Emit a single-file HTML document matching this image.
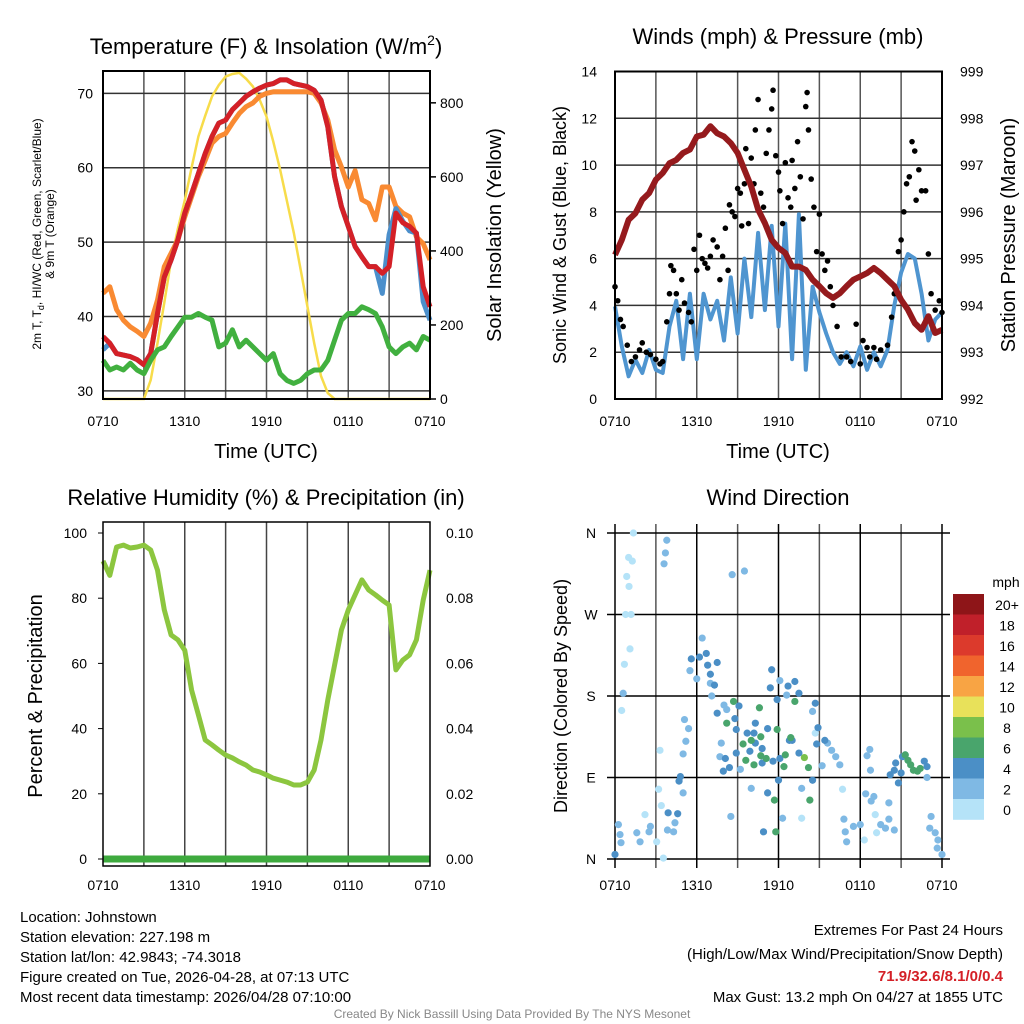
<!DOCTYPE html>
<html><head><meta charset="utf-8"><style>
html,body{margin:0;padding:0;background:#fff;width:1024px;height:1024px;overflow:hidden;}
svg{display:block;}
svg text{font-family:"Liberation Sans",sans-serif;}
</style></head><body>
<div style="position:relative;width:1024px;height:1024px;">
<svg id="c" width="1024" height="1024" viewBox="0 0 1024 1024" xmlns="http://www.w3.org/2000/svg" style="position:absolute;left:0;top:0"></svg>
<script>
// ---------- data ----------
const hours = [0,0.5,1,1.5,2,2.5,3,3.5,4,4.5,5,5.5,6,6.5,7,7.5,8,8.5,9,9.5,10,10.5,11,11.5,12,12.5,13,13.5,14,14.5,15,15.5,16,16.5,17,17.5,18,18.5,19,19.5,20,20.5,21,21.5,22,22.5,23,23.5,24];
const xTickLabels = ["0710","1310","1910","0110","0710"];
const tempTicks = [30,40,50,60,70];
const solarTicks = [0,200,400,600,800];
const tempRed = [37.3,36.4,35,34.8,34.6,34.2,33.5,35,40.4,45.3,47.6,50.3,53.9,56.5,59.2,61.9,64.2,66,66.4,67.8,68.7,69.6,70.2,70.7,71.1,71.3,71.8,71.8,71.3,71.1,70.9,70.4,69.1,65.5,58.8,54.8,52.1,49.4,48,46.7,46.7,45.8,46.7,53.9,52.6,52.1,51.2,44,41.3];
const tempBlue = [35.5,36.4,35,34.8,34.6,34.2,33.5,35,40.4,45.3,47.6,50.3,53.9,56.5,59.2,61.9,64.2,66,66.4,67.8,68.7,69.6,70.2,70.7,71.1,71.3,71.8,71.8,71.3,71.1,70.9,70.4,69.1,65.5,58.8,54.8,52.1,49.4,48,46.7,46.7,43.1,51,54.5,52.8,51.5,51.2,42,39.5];
const tempOrange = [43.1,44,40.9,39.5,38.6,38,37.3,39.1,42.2,46.7,48.5,50.3,53.4,56.1,58.8,61,63.3,64.2,64.6,66,67.3,68.2,68.7,69.6,70,70.2,70.2,70.2,70.2,70.2,70.2,70,68.7,66.4,62.4,60.1,57.4,59.6,55.7,55.2,53,57.4,57.4,54.8,53.9,53.4,50.7,49.8,47.6];
const tempGreen = [34.1,32.8,33.2,32.8,33.7,32.8,32.3,34.1,35.5,35.9,37.3,38.6,39.9,39.9,40.4,39.9,39.5,35.9,36.4,38.2,35.9,36.8,35.9,35,34.1,35,32.3,31.4,31,31.4,32.3,32.8,32.8,34.1,36.8,39.5,40.4,40.4,41.3,40.9,40.4,38.6,35.9,35,35.9,36.4,35.5,37.3,36.8];
const solar = [0,0,0,0,0,0,0,51,151,260,375,460,537,625,709,765,817,848,871,878,881,865,844,808,763,695,620,535,449,350,250,151,62,16,0,0,0,0,0,0,0,0,0,0,0,0,0,0,0];

const windTicks = [0,2,4,6,8,10,12,14];
const presTicks = [992,993,994,995,996,997,998,999];
const windSpeed = [3.96,2.25,0.97,1.68,1.11,2.1,1.25,1.11,3.1,4.2,1.7,4.5,1.7,4.5,3.4,4.2,2.5,5.2,2.8,6,3.5,7.1,3.8,7.4,3.1,7.5,1.7,7.9,1.25,4.8,3.7,2.8,2,1.5,2,1.4,2.25,1.25,2,1.4,2.1,4,5.4,6.2,6,4.5,2.5,3.4,3.7];
const pressure = [995.08,995.4,995.83,995.97,996.26,996.4,996.69,996.83,997.04,997.11,997.26,997.33,997.61,997.65,997.83,997.68,997.61,997.47,997.26,996.9,996.54,996.05,995.76,995.4,995.23,995.12,994.83,994.83,994.76,994.55,994.41,994.26,994.16,994.26,994.41,994.55,994.62,994.69,994.8,994.69,994.55,994.41,994.12,993.91,993.62,993.48,993.77,993.41,993.48];
const gustHours = [0,0.2,0.4,0.6,0.9,1.2,1.5,1.8,2,2.3,2.6,3,3.3,3.5,3.8,4,4.1,4.3,4.5,4.7,4.9,5.1,5.4,5.6,5.8,6,6.2,6.4,6.6,6.8,7,7.2,7.5,7.7,7.9,8.1,8.3,8.4,8.6,8.8,9,9.2,9.3,9.5,9.6,9.8,10,10.2,10.3,10.5,10.7,10.9,11.1,11.3,11.5,11.6,11.8,12,12.1,12.3,12.5,12.7,12.9,13,13.2,13.4,13.6,13.8,14,14.1,14.2,14.4,14.6,14.8,15,15.2,15.4,15.6,15.8,16,16.3,16.6,17,17.3,17.7,18,18.2,18.5,18.7,19,19.2,19.5,20,20.3,20.5,20.8,21,21.2,21.4,21.6,21.8,22,22.1,22.3,22.5,22.8,23,23.2,23.5,23.8,24];
const gustSpeed = [4.8,4.2,3.4,3.1,2.3,1.6,1.8,2.1,2.4,2,1.9,1.7,1.5,1.6,3.3,4.5,5.7,5.5,4.5,3.8,5.1,4.1,3.7,3.3,6.4,5.5,7,6,5.8,5.6,6.1,6.8,6.5,5.1,6.1,7.3,5.5,8.3,8,7.8,9,8.8,7.4,9.2,10.7,7.5,10.3,9.2,11.5,12.8,8.8,8.2,10.5,11.5,12.4,13.2,10.4,9.7,8.9,7.5,10.1,8.6,8.2,10.2,9,11,9.5,7.7,12.5,13.1,11.5,9.4,8.2,6.3,7.9,6.2,5.5,5.9,4.8,4,3.1,1.8,1.8,1.6,3.2,1.5,2.5,2.2,1.8,2.2,1.7,2.1,2.3,3.5,4.5,6.3,6.8,8,9.2,9.5,11,10.6,8.5,9.8,8.9,8.9,6.2,4.5,3.8,4.2,3.7];

const rhTicks = [0,20,40,60,80,100];
const precipTickLabels = ["0.00","0.02","0.04","0.06","0.08","0.10"];
const rh = [91.4,87,95.7,96.3,95.4,95.7,96.3,94.8,88.6,76.4,68.7,67.2,64,51.8,44.2,36.5,35,33.4,31.9,31,29.8,28.8,27.3,26.7,25.8,24.8,24.2,23.6,22.7,22.7,23.6,27.3,36.5,48.8,59.5,70.2,76.4,81,85.6,82.5,81,79.4,77.9,58,61,62.6,67.2,79.4,88.6];
const precip = [0,0,0,0,0,0,0,0,0,0,0,0,0,0,0,0,0,0,0,0,0,0,0,0,0,0,0,0,0,0,0,0,0,0,0,0,0,0,0,0,0,0,0,0,0,0,0,0,0];

const dirTickLabels = ["N","E","S","W","N"];
const dirHours = [1.35,1.0,1.27,0.86,1.03,0.78,1.18,1.1,0.69,0.49,3.3,3.2,3.4,2.2,3.06,3.55,16.7,13.7,18.3,19.1,19.2,14.7,
3.8,3.7,3.6,0.6,5.1,5.4,5.2,5,7.8,7.7,9.2,10,8.5,12.3,5,0.25,0.37,0.44,1.6,1.84,2.6,2.5,3.85,4.3,4.4,8.6,13.7,14.5,12.1,12.6,8,8.2,6,5.5,7,7.1,15.2,15.6,15.9,16.2,16.5,18.5,18.7,18.75,18.4,18.8,19,16.8,16.9,17,17.5,18,19.5,19.85,20.1,20.1,22.9,23.2,23.1,23.5,23.7,23.65,24,20.5,
9.5,6.4,5.6,6.2,6.7,6.8,7.5,7,7.3,7.5,8.8,9.1,8.9,9.7,10.3,11.2,11.9,12.7,13.2,13.5,14.7,14.9,14.8,15.4,12.8,13,12.1,13.5,14.5,12,11.2,10.9,9.9,10.8,10.8,11.6,8.9,8.1,7.95,8.4,4.7,4.8,3.9,4.6,0,20.5,20.2,20.8,21,21.1,21.3,22.7,22.9,20.6,10.3,10.2,
11.5,11.4,8.7,10.6,8.2,9.4,10,9.6,10.2,10.7,11.1,12.4,12.5,12.9,13.2,14.2,14.3,11.7,11.8,21.3,21.5,21.7,21.9,22.2,22.4,
10.7,11.9,13.9];
const dirDegrees = [360,333,329,312,301,270,270,232,215,164,120,77,59,49,19,1,77,45,21,49,29,139,
352,338,326,183,154,144,130,116,128,113,99,78,47,45,73,38,27,18,29,19,36,30,32,30,40,314,78,163,197,181,170,165,199,208,194,180,103,128,120,113,104,114,121,98,72,64,69,44,30,19,36,38,38,34,44,62,90,47,34,29,21,12,5,32,
318,244,221,223,227,214,217,204,192,161,155,169,143,139,150,144,176,191,196,183,172,145,127,131,131,131,111,117,87,87,73,30,119,122,106,108,117,111,97,101,86,91,51,50,5,98,93,84,95,113,115,108,102,106,128,139,
209,189,174,167,150,127,131,109,104,114,111,102,115,134,174,101,65,65,30,115,109,104,98,97,100,
135,143,112];
const dirSpeeds = [1,1,1,1,1,1,1,1,1,1,1,1,1,1,1,1,1,1,1,1,1,1,
3,3,3,3,3,3,3,3,3,3,3,3,3,3,3,3,3,3,3,3,3,3,3,3,3,3,3,3,3,3,3,3,3,3,3,3,3,3,3,3,3,3,3,3,3,3,3,3,3,3,3,3,3,3,3,3,3,3,3,3,3,3,3,3,3,3,
5,5,5,5,5,5,5,5,5,5,5,5,5,5,5,5,5,5,5,5,5,5,5,5,5,5,5,5,5,5,5,5,5,5,5,5,5,5,5,5,5,5,5,5,5,5,5,5,5,5,5,5,5,5,5,5,
7,7,7,7,7,7,7,7,7,7,7,7,7,7,7,7,7,7,7,7,7,7,7,7,7,
9,9,9];
const cbLabels = ["20+","18","16","14","12","10","8","6","4","2","0"];
const cbColors = ["#8e1518","#c0202a","#dc3a2c","#f0642d","#f8a444","#e8e15a","#7ac04b","#49a56c","#4b8fc6","#7fb9e4","#b5e3f8"];

// ---------- helpers ----------
const NS="http://www.w3.org/2000/svg";
const svg=document.getElementById('c');
function mk(tag,attrs,parent,txt){const e=document.createElementNS(NS,tag);for(const k in attrs)e.setAttribute(k,attrs[k]);if(txt!==undefined)e.textContent=txt;(parent||svg).appendChild(e);return e;}
function lin(d0,d1,r0,r1){return v=>r0+(v-d0)/(d1-d0)*(r1-r0);}
function path(xs,ys,fx,fy){return xs.map((x,i)=>(i?'L':'M')+fx(x).toFixed(1)+','+fy(ys[i]).toFixed(1)).join('');}
function speedColor(s){const idx=Math.min(10,Math.floor(s/2));return cbColors[10-idx];}

// ---------- Panel 1: temperature ----------
const p1={l:103,r:430,t:71,b:399};
const x1=lin(0,24,p1.l,p1.r), yT=lin(28.9,73,p1.b,p1.t), yS=lin(0,886,p1.b,p1.t);
const g1=mk('g',{});


for(let h=3;h<24;h+=3){const l=mk('line',{x1:x1(h),x2:x1(h),y1:p1.t,y2:p1.b,stroke:'#555','stroke-width':1.5},g1);}
tempTicks.forEach(v=>{const l=mk('line',{x1:p1.l,x2:p1.r,y1:yT(v),y2:yT(v),stroke:'#333','stroke-width':1.5},g1);
 const t=mk('text',{x:p1.l-10,y:yT(v)+5,'font-size':14,'text-anchor':'end'},g1,v);});
solarTicks.forEach(v=>{mk('line',{x1:p1.r,x2:p1.r+6,y1:yS(v),y2:yS(v),stroke:'#000','stroke-width':1.5},g1);
 const t=mk('text',{x:p1.r+10,y:yS(v)+5,'font-size':14},g1,v);});
const sSolar=mk('path',{d:path(hours,solar,x1,yS),fill:'none',stroke:'#f7dc4a','stroke-width':2.5},g1);
const sOr=mk('path',{d:path(hours,tempOrange,x1,yT),fill:'none',stroke:'#f98a32','stroke-width':5,'stroke-linejoin':'round'},g1);
const sBl=mk('path',{d:path(hours,tempBlue,x1,yT),fill:'none',stroke:'#4b8fcb','stroke-width':5,'stroke-linejoin':'round'},g1);
const sRd=mk('path',{d:path(hours,tempRed,x1,yT),fill:'none',stroke:'#d42027','stroke-width':5,'stroke-linejoin':'round'},g1);
const sGr=mk('path',{d:path(hours,tempGreen,x1,yT),fill:'none',stroke:'#41b03f','stroke-width':5,'stroke-linejoin':'round'},g1);
mk('rect',{x:p1.l,y:p1.t,width:p1.r-p1.l,height:p1.b-p1.t,fill:'none',stroke:'#000','stroke-width':2},g1);

// ---------- Panel 2: winds ----------
const p2={l:615,r:942,t:71.5,b:399};
const x2=lin(0,24,p2.l,p2.r), yW=lin(0,14,p2.b,p2.t), yP=lin(992,999,p2.b,p2.t);
const g2=mk('g',{});


for(let h=3;h<24;h+=3){mk('line',{x1:x2(h),x2:x2(h),y1:p2.t,y2:p2.b,stroke:'#555','stroke-width':1.5},g2);}
windTicks.forEach(v=>{mk('line',{x1:p2.l,x2:p2.r,y1:yW(v),y2:yW(v),stroke:'#333','stroke-width':1.5},g2);
 const t=mk('text',{x:p2.l-18,y:yW(v)+5,'font-size':14,'text-anchor':'end'},g2,v);});
presTicks.forEach(v=>{const t=mk('text',{x:p2.r+18,y:yP(v)+5,'font-size':14},g2,v);});
const sW=mk('path',{d:path(hours,windSpeed,x2,yW),fill:'none',stroke:'#4f95d0','stroke-width':4,'stroke-linejoin':'round'},g2);
gustHours.forEach((h,i)=>{const c=mk('circle',{cx:x2(h),cy:yW(gustSpeed[i]),r:2.8,fill:'#000'},g2);});
const sP=mk('path',{d:path(hours,pressure,x2,yP),fill:'none',stroke:'#951a1d','stroke-width':6,'stroke-linejoin':'round'},g2);
mk('rect',{x:p2.l,y:p2.t,width:p2.r-p2.l,height:p2.b-p2.t,fill:'none',stroke:'#000','stroke-width':2},g2);

// ---------- Panel 3: RH ----------
const p3={l:103,r:430,t:522,b:866};
const x3=lin(0,24,p3.l,p3.r), yR=lin(0,100,859,533), yPr=lin(0,0.1,859,533);
const g3=mk('g',{});


for(let h=3;h<24;h+=3){mk('line',{x1:x3(h),x2:x3(h),y1:p3.t,y2:p3.b,stroke:'#444','stroke-width':1.5},g3);}
rhTicks.forEach((v,i)=>{mk('line',{x1:p3.l,x2:p3.l-5,y1:yR(v),y2:yR(v),stroke:'#000'},g3);
 const t=mk('text',{x:p3.l-16,y:yR(v)+5,'font-size':14,'text-anchor':'end'},g3,v);
 const t2=mk('text',{x:p3.r+16,y:yR(v)+5,'font-size':14},g3,precipTickLabels[i]);});
const sPr=mk('path',{d:path(hours,precip,x3,yPr),fill:'none',stroke:'#3eaa3e','stroke-width':7},g3);
const sRH=mk('path',{d:path(hours,rh,x3,yR),fill:'none',stroke:'#8cc63f','stroke-width':5,'stroke-linejoin':'round'},g3);
mk('rect',{x:p3.l,y:p3.t,width:p3.r-p3.l,height:p3.b-p3.t,fill:'none',stroke:'#000','stroke-width':1.5},g3);

// ---------- Panel 4: wind direction ----------
const p4={l:615,r:942,t:524,b:868};
const x4=lin(0,24,p4.l,p4.r), yD=lin(0,360,859,533);
const g4=mk('g',{});


for(let h=0;h<=24;h+=3){mk('line',{x1:x4(h),x2:x4(h),y1:p4.t,y2:p4.b,stroke:(h%6==0?'#000':'#555'),'stroke-width':1.5},g4);}
dirTickLabels.forEach((s,i)=>{const v=i*90;mk('line',{x1:p4.l-8,x2:p4.r+8,y1:yD(v),y2:yD(v),stroke:'#000','stroke-width':1.5},g4);
 const t=mk('text',{x:p4.l-24,y:yD(v)+5,'font-size':14,'text-anchor':'middle'},g4,s);});
dirHours.forEach((h,i)=>{const c=mk('circle',{cx:x4(h),cy:yD(dirDegrees[i]),r:3.6,fill:speedColor(dirSpeeds[i])},g4);});
// colorbar
const cb=mk('g',{});


const cbTop=594, cbH=20.5;
cbColors.forEach((c,i)=>{mk('rect',{x:953,y:cbTop+i*cbH,width:31,height:cbH+0.3,fill:c},cb);
 const t=mk('text',{x:1007,y:cbTop+i*cbH+16,'font-size':14,'text-anchor':'middle'},cb,cbLabels[i]);});
const mph=mk('text',{x:1006,y:587,'font-size':14,'text-anchor':'middle'},cb,'mph');

// ---------- x tick labels ----------
[[x1,426],[x2,426],[x3,890],[x4,890]].forEach(([fx,yy])=>{xTickLabels.forEach((s,i)=>{const t=mk('text',{x:fx(i*6),y:yy,'font-size':14,'text-anchor':'middle'},svg,s);});});
</script>
<svg width="1024" height="1024" style="position:absolute;left:0;top:0" font-family="Liberation Sans, sans-serif">
<text x="266" y="54" font-size="22" text-anchor="middle">Temperature (F) &amp; Insolation (W/m<tspan font-size="14" dy="-9">2</tspan><tspan dy="9">)</tspan></text>
<text x="778" y="44" font-size="22" text-anchor="middle">Winds (mph) &amp; Pressure (mb)</text>
<text x="266" y="505" font-size="22" text-anchor="middle">Relative Humidity (%) &amp; Precipitation (in)</text>
<text x="778" y="505" font-size="22" text-anchor="middle">Wind Direction</text>
<text x="266" y="458" font-size="20" text-anchor="middle">Time (UTC)</text>
<text x="778" y="458" font-size="20" text-anchor="middle">Time (UTC)</text>
<text transform="translate(41,234) rotate(-90)" font-size="12" text-anchor="middle">2m T, T<tspan font-size="9" dy="3">d</tspan><tspan dy="-3">, HI/WC (Red, Green, Scarlet/Blue)</tspan></text>
<text transform="translate(54,234) rotate(-90)" font-size="12" text-anchor="middle">&amp; 9m T (Orange)</text>
<text transform="translate(501,235) rotate(-90)" font-size="20" text-anchor="middle">Solar Insolation (Yellow)</text>
<text transform="translate(566,235) rotate(-90)" font-size="18" text-anchor="middle">Sonic Wind &amp; Gust (Blue, Black)</text>
<text transform="translate(1015,235) rotate(-90)" font-size="20" text-anchor="middle">Station Pressure (Maroon)</text>
<text transform="translate(42,696) rotate(-90)" font-size="20" text-anchor="middle">Percent &amp; Precipitation</text>
<text transform="translate(567,696) rotate(-90)" font-size="18" text-anchor="middle">Direction (Colored By Speed)</text>
<g font-size="15">
<text x="20" y="922">Location: Johnstown</text>
<text x="20" y="942">Station elevation: 227.198 m</text>
<text x="20" y="962">Station lat/lon: 42.9843; -74.3018</text>
<text x="20" y="982">Figure created on Tue, 2026-04-28, at 07:13 UTC</text>
<text x="20" y="1002">Most recent data timestamp: 2026/04/28 07:10:00</text>
</g>
<g font-size="15" text-anchor="end">
<text x="1003" y="935">Extremes For Past 24 Hours</text>
<text x="1003" y="959">(High/Low/Max Wind/Precipitation/Snow Depth)</text>
<text x="1003" y="981" fill="#d42027" font-weight="bold">71.9/32.6/8.1/0/0.4</text>
<text x="1003" y="1002">Max Gust: 13.2 mph On 04/27 at 1855 UTC</text>
</g>
<text x="512" y="1018" font-size="12" fill="#888" text-anchor="middle">Created By Nick Bassill Using Data Provided By The NYS Mesonet</text>
</svg>
</div>
</body></html>
